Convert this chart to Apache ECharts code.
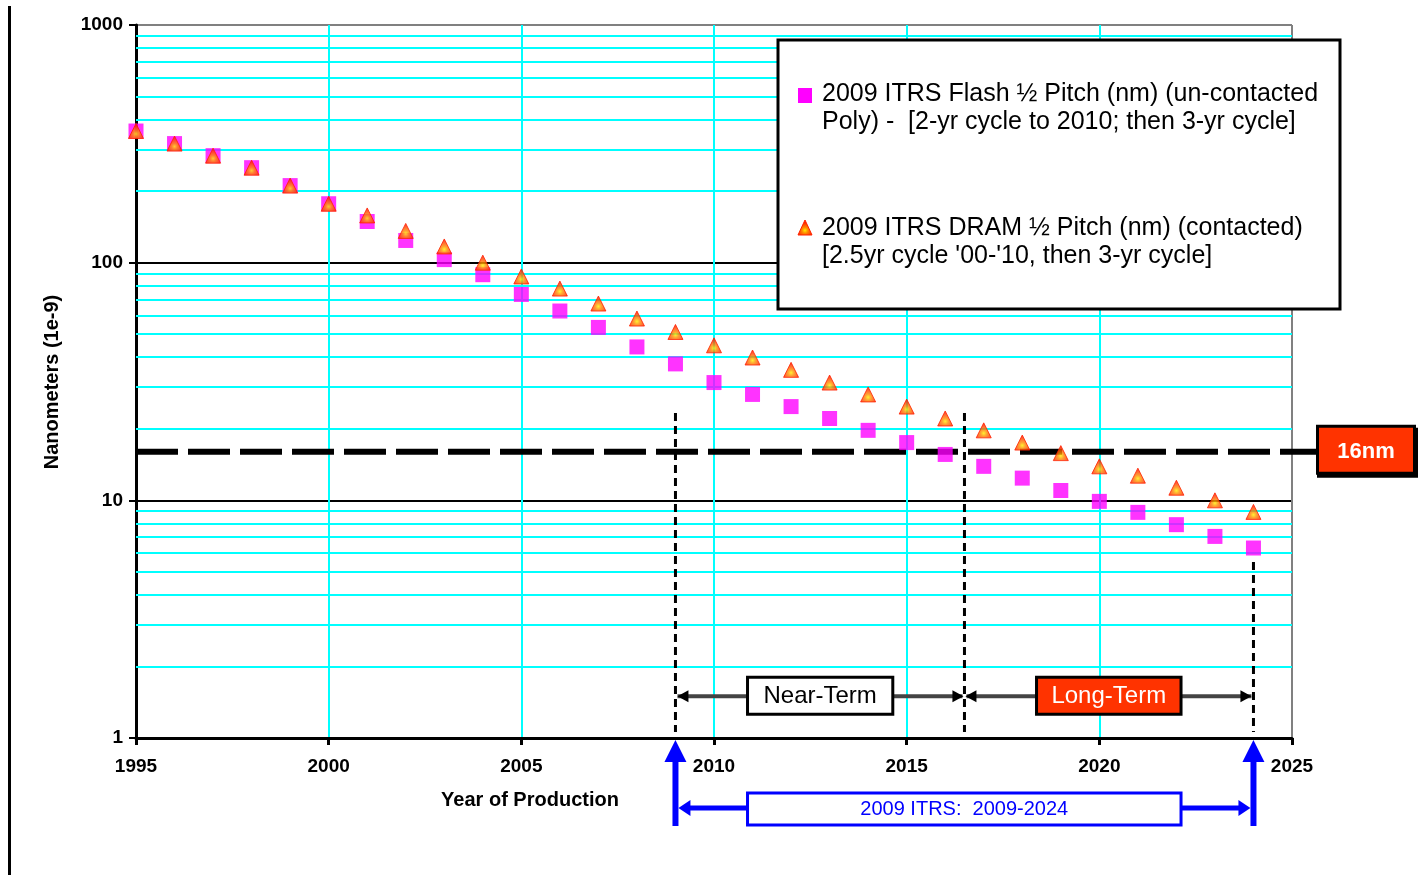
<!DOCTYPE html>
<html>
<head>
<meta charset="utf-8">
<script src="https://cdn.jsdelivr.net/npm/echarts@6/dist/echarts.min.js"></script>
<style>
  html, body { margin: 0; padding: 0; background: #ffffff; }
  #chart { width: 1426px; height: 875px; }
</style>
</head>
<body>
<div id="chart"></div>
<script>
// ---- data -------------------------------------------------------------
const years = [1995, 1996, 1997, 1998, 1999, 2000, 2001, 2002, 2003, 2004,
               2005, 2006, 2007, 2008, 2009, 2010, 2011, 2012, 2013, 2014,
               2015, 2016, 2017, 2018, 2019, 2020, 2021, 2022, 2023, 2024];
// Flash 1/2 pitch (nm), un-contacted poly
const flashHalfPitch = [358, 317, 282, 251, 211, 177, 149, 124, 103, 89,
                        73.5, 62.6, 53.4, 44.2, 37.5, 31.3, 27.9, 24.8, 22.1, 19.7,
                        17.5, 15.6, 13.9, 12.4, 11.0, 9.9, 8.9, 7.9, 7.05, 6.3];
// DRAM 1/2 pitch (nm), contacted
const dramHalfPitch = [358, 317, 282, 251, 211, 177, 158, 136, 117, 100,
                       87.5, 77.8, 67.3, 58.2, 51.1, 44.9, 39.9, 35.4, 31.3, 27.9,
                       24.8, 22.1, 19.7, 17.5, 15.8, 13.9, 12.7, 11.3, 10.0, 8.94];
const xMin = 1995, xMax = 2025, xStep = 5;
const yMin = 1, yMax = 1000;
// minor log gridlines (2..9 of each decade)
const minorGridValues = [2, 3, 4, 5, 6, 7, 8, 9,
                         20, 30, 40, 50, 60, 70, 80, 90,
                         200, 300, 400, 500, 600, 700, 800, 900];
const targetLine = 16;           // 16nm reference
const roadmapStart = 2009;       // start of roadmap window
const nearLongSplit = 2016.5;    // near-term / long-term boundary
const roadmapEnd = 2024;         // end of roadmap window

const flashLabel = ['2009 ITRS Flash \u00BD Pitch (nm) (un-contacted',
                    'Poly) -  [2-yr cycle to 2010; then 3-yr cycle]'];
const dramLabel = ['2009 ITRS DRAM \u00BD Pitch (nm) (contacted)',
                   "[2.5yr cycle '00-'10, then 3-yr cycle]"];

const FONT = '"Liberation Sans", Arial, Helvetica, sans-serif';

const dramFill = new echarts.graphic.RadialGradient(0.5, 0.68, 0.55, [
  { offset: 0, color: '#ffee00' },
  { offset: 0.35, color: '#ff8a00' },
  { offset: 1, color: '#ff1a00' }
]);

const chart = echarts.init(document.getElementById('chart'), null, { renderer: 'canvas' });

const option = {
  animation: false,
  backgroundColor: '#ffffff',
  grid: { left: 136, right: 134, top: 25, bottom: 137, containLabel: false },
  xAxis: {
    type: 'value', min: xMin, max: xMax, interval: xStep,
    axisLine: { show: true, onZero: false, lineStyle: { color: '#000', width: 3 } },
    axisTick: { show: true, length: 7, lineStyle: { color: '#000', width: 3 } },
    axisLabel: { formatter: v => String(v), margin: 19, fontSize: 19, fontWeight: 'bold',
                 color: '#000', fontFamily: FONT },
    splitLine: { show: true, lineStyle: { width: 2,
      color: ['#000000', '#00ffff', '#00ffff', '#00ffff', '#00ffff', '#00ffff', '#808080'] } }
  },
  yAxis: {
    type: 'log', logBase: 10, min: yMin, max: yMax,
    axisLine: { show: true, lineStyle: { color: '#000', width: 3 } },
    axisTick: { show: true, length: 7, lineStyle: { color: '#000', width: 2 } },
    axisLabel: { formatter: v => String(Math.round(v)), margin: 13, fontSize: 19,
                 fontWeight: 'bold', color: '#000', fontFamily: FONT },
    splitLine: { show: true, lineStyle: { width: 2,
      color: ['#000000', '#000000', '#000000', '#808080'] } }
  },
  series: [
    {
      name: 'Flash', type: 'scatter', z: 3,
      data: years.map((y, i) => [y, flashHalfPitch[i]]),
      symbol: 'rect', symbolSize: 15,
      itemStyle: { color: '#ff00ff' },
      markLine: {
        silent: true, z: 1, symbol: ['none', 'none'],
        label: { show: false },
        lineStyle: { color: '#00ffff', width: 2, type: 'solid' },
        emphasis: { disabled: true },
        data: minorGridValues.map(v => ({ yAxis: v }))
      }
    },
    {
      name: 'DRAM', type: 'scatter', z: 4,
      data: years.map((y, i) => [y, dramHalfPitch[i]]),
      symbol: 'triangle', symbolSize: [15, 15],
      itemStyle: { color: dramFill, borderColor: '#ff2200', borderWidth: 1 }
    }
  ]
};
chart.setOption(option);

// ---- annotations positioned through the axes ---------------------------
const px = (x, y) => chart.convertToPixel({ gridIndex: 0 }, [x, y]);
const axisBottom = px(xMin, yMin)[1];
const xS = px(roadmapStart, 1)[0];
const xM = px(nearLongSplit, 1)[0];
const xE = px(roadmapEnd, 1)[0];
const y16 = px(xMin, targetLine)[1];
const yTerm = px(xMin, 1.5)[1];

function head(tipX, tipY, dir, len, half) {
  if (dir === 'left') return [[tipX, tipY], [tipX + len, tipY - half], [tipX + len, tipY + half]];
  if (dir === 'right') return [[tipX, tipY], [tipX - len, tipY - half], [tipX - len, tipY + half]];
  return [[tipX, tipY], [tipX - half, tipY + len], [tipX + half, tipY + len]];
}
function line(x1, y1, x2, y2, stroke, w, dash, z) {
  return { type: 'line', z: z || 2, silent: true, shape: { x1, y1, x2, y2 },
           style: { stroke, lineWidth: w, lineDash: dash || null } };
}
function poly(points, fill, z) {
  return { type: 'polygon', z: z || 6, silent: true, shape: { points }, style: { fill } };
}
function text(x, y, str, opts) {
  return Object.assign({ type: 'text', z: 12, silent: true, x, y,
    style: Object.assign({ text: str, fontFamily: FONT, fill: '#000',
                           textAlign: 'left', textVerticalAlign: 'middle' }, opts.style || {}) },
    opts.el || {});
}

const g = [];
// page border at left
g.push(line(9.5, 6, 9.5, 875, '#000', 3, null, 1));

// 16nm reference line and tag
const tagX = 1316;
g.push(line(px(xMin, 1)[0], y16, tagX, y16, '#000', 6, [42, 10], 1));
g.push({ type: 'rect', z: 10, silent: true, shape: { x: tagX + 1, y: y16 - 24, width: 101, height: 50 },
         style: { fill: '#000' } });
g.push({ type: 'rect', z: 11, silent: true, shape: { x: tagX + 1.5, y: y16 - 25.5, width: 97, height: 47 },
         style: { fill: '#ff3300', stroke: '#000', lineWidth: 3 } });
g.push(text(tagX + 50, y16, '16nm', { style: { fill: '#ffffff', fontSize: 22, fontWeight: 'bold', textAlign: 'center' } }));

// roadmap window boundaries
const yDashTop = px(xMin, 23.3)[1];
g.push(line(xS, yDashTop, xS, axisBottom - 6, '#000', 3, [8, 5], 2));
g.push(line(xM, yDashTop, xM, axisBottom - 6, '#000', 3, [8, 5], 2));
g.push(line(xE, px(xMin, 5.5)[1], xE, axisBottom - 6, '#000', 3, [8, 5], 2));

// near-term / long-term spans
g.push(line(xS + 2, yTerm, xM - 2, yTerm, '#444', 4, null, 5));
g.push(line(xM + 2, yTerm, xE - 2, yTerm, '#444', 4, null, 5));
g.push(poly(head(xS + 2, yTerm, 'left', 11, 6), '#000'));
g.push(poly(head(xM - 1, yTerm, 'right', 11, 6), '#000'));
g.push(poly(head(xM + 1, yTerm, 'left', 11, 6), '#000'));
g.push(poly(head(xE - 2, yTerm, 'right', 11, 6), '#000'));

const nearL = px(2010.87, 1)[0], nearR = px(2014.64, 1)[0];
const longL = px(2018.37, 1)[0], longR = px(2022.12, 1)[0];
g.push({ type: 'rect', z: 10, silent: true,
         shape: { x: nearL, y: yTerm - 19, width: nearR - nearL, height: 37 },
         style: { fill: '#ffffff', stroke: '#000', lineWidth: 3 } });
g.push(text((nearL + nearR) / 2, yTerm, 'Near-Term', { style: { fontSize: 24, textAlign: 'center' } }));
g.push({ type: 'rect', z: 10, silent: true,
         shape: { x: longL, y: yTerm - 19, width: longR - longL, height: 37 },
         style: { fill: '#ff3300', stroke: '#000', lineWidth: 3 } });
g.push(text((longL + longR) / 2, yTerm, 'Long-Term', { style: { fontSize: 24, textAlign: 'center', fill: '#ffffff' } }));

// roadmap window below the axis (blue)
const blue = '#0000ff';
const yArrowTop = axisBottom + 2, yArrowBot = axisBottom + 88, ySpan = axisBottom + 70;
g.push(line(xS, yArrowTop + 15, xS, yArrowBot, blue, 6, null, 5));
g.push(line(xE, yArrowTop + 15, xE, yArrowBot, blue, 6, null, 5));
g.push(poly(head(xS, yArrowTop, 'up', 22, 11), blue));
g.push(poly(head(xE, yArrowTop, 'up', 22, 11), blue));
g.push(line(xS + 10, ySpan, xE - 10, ySpan, blue, 5, null, 5));
g.push(poly(head(xS + 3, ySpan, 'left', 12, 8), blue));
g.push(poly(head(xE - 3, ySpan, 'right', 12, 8), blue));
g.push({ type: 'rect', z: 10, silent: true,
         shape: { x: nearL, y: ySpan - 15, width: longR - nearL, height: 32 },
         style: { fill: '#ffffff', stroke: blue, lineWidth: 3 } });
g.push(text((nearL + longR) / 2, ySpan + 1, '2009 ITRS:  2009-2024', { style: { fontSize: 20, textAlign: 'center', fill: blue } }));

// legend
const lgX = 778, lgY = 40, lgW = 562, lgH = 269;
g.push({ type: 'rect', z: 10, silent: true, shape: { x: lgX, y: lgY, width: lgW, height: lgH },
         style: { fill: '#ffffff', stroke: '#000', lineWidth: 3 } });
g.push({ type: 'rect', z: 11, silent: true, shape: { x: 798, y: 88, width: 14, height: 15 },
         style: { fill: '#ff00ff' } });
g.push({ type: 'polygon', z: 11, silent: true,
         shape: { points: [[805, 220], [798, 235], [812, 235]] },
         style: { fill: dramFill, stroke: '#ff2200', lineWidth: 1 } });
g.push(text(822, 94, flashLabel[0], { style: { fontSize: 25 } }));
g.push(text(822, 122, flashLabel[1], { style: { fontSize: 25 } }));
g.push(text(822, 228, dramLabel[0], { style: { fontSize: 25 } }));
g.push(text(822, 256, dramLabel[1], { style: { fontSize: 25 } }));

// axis titles
g.push(text(530, 800, 'Year of Production', { style: { fontSize: 20, fontWeight: 'bold', textAlign: 'center' } }));
g.push(text(52, 382, 'Nanometers (1e-9)', {
  style: { fontSize: 20, fontWeight: 'bold', textAlign: 'center' },
  el: { rotation: Math.PI / 2 }
}));

chart.setOption({ graphic: { elements: g } });
</script>
</body>
</html>
